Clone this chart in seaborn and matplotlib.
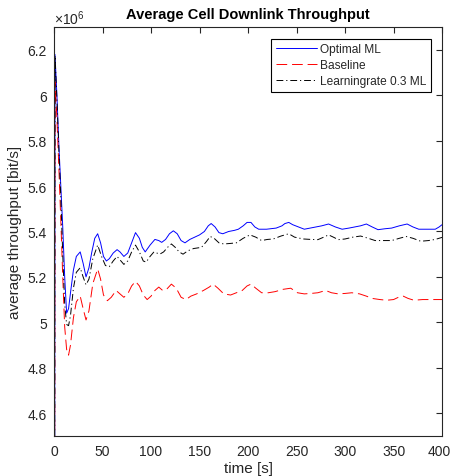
import numpy as np
import pandas as pd
import matplotlib
matplotlib.use("Agg")
import matplotlib.pyplot as plt
import matplotlib.transforms as mtransforms
import seaborn as sns

# ---- data (values in units of 10^6 bit/s) ----
opt_t = [0, 1, 3, 5, 7, 9, 11, 13, 15, 17, 20, 23, 27, 30, 33, 36, 39, 42, 45, 48, 51, 54,
         57, 61, 65, 68, 72, 76, 80, 84, 88, 91, 94, 99, 104, 108, 111, 115, 119, 123, 127,
         131, 135, 140, 145, 150, 155, 159, 162, 166, 170, 174, 180, 186, 190, 195, 199, 203,
         207, 211, 219, 229, 235, 238, 242, 246, 252, 258, 264, 270, 276, 283, 290, 297, 304,
         310, 316, 322, 328, 334, 341, 348, 356, 364, 370, 376, 385, 393, 397, 400]
opt_v = [0.0, 6.18, 6.0, 5.78, 5.6, 5.42, 5.2, 5.04, 5.06, 5.13, 5.23, 5.29, 5.31, 5.26, 5.2,
         5.24, 5.31, 5.37, 5.39, 5.35, 5.29, 5.27, 5.28, 5.305, 5.32, 5.31, 5.29, 5.305, 5.35,
         5.395, 5.37, 5.33, 5.31, 5.34, 5.365, 5.36, 5.352, 5.365, 5.39, 5.403, 5.39, 5.36,
         5.35, 5.365, 5.375, 5.385, 5.40, 5.425, 5.435, 5.42, 5.395, 5.39, 5.40, 5.405, 5.41,
         5.425, 5.44, 5.44, 5.42, 5.41, 5.41, 5.415, 5.425, 5.435, 5.44, 5.43, 5.42, 5.41,
         5.415, 5.42, 5.425, 5.433, 5.42, 5.41, 5.415, 5.42, 5.425, 5.433, 5.42, 5.408, 5.412,
         5.415, 5.425, 5.433, 5.42, 5.41, 5.41, 5.41, 5.42, 5.43]

base_t = [0, 1, 3, 5, 7, 9, 11, 13, 15, 17, 20, 23, 27, 30, 33, 36, 40, 45, 48, 51, 55, 59,
          64, 68, 72, 76, 80, 84, 88, 92, 96, 100, 104, 108, 112, 116, 121, 126, 131, 136,
          141, 147, 154, 160, 164, 169, 175, 182, 188, 194, 199, 203, 208, 214, 221, 228,
          236, 244, 251, 258, 265, 272, 280, 286, 293, 300, 307, 315, 322, 328, 336, 343,
          350, 356, 360, 365, 371, 380, 390, 400]
base_v = [0.0, 6.06, 5.9, 5.68, 5.45, 5.2, 4.98, 4.88, 4.855, 4.9, 5.02, 5.09, 5.115, 5.06,
          5.01, 5.05, 5.17, 5.235, 5.19, 5.12, 5.095, 5.11, 5.14, 5.125, 5.11, 5.125, 5.16,
          5.18, 5.16, 5.12, 5.10, 5.115, 5.14, 5.155, 5.14, 5.145, 5.168, 5.15, 5.11, 5.10,
          5.115, 5.125, 5.14, 5.155, 5.168, 5.15, 5.125, 5.12, 5.13, 5.14, 5.16, 5.168, 5.15,
          5.13, 5.13, 5.135, 5.145, 5.15, 5.13, 5.125, 5.127, 5.13, 5.14, 5.13, 5.125, 5.127,
          5.13, 5.125, 5.115, 5.105, 5.10, 5.097, 5.10, 5.112, 5.115, 5.105, 5.097, 5.10,
          5.10, 5.10]

lr_t = [0, 1, 3, 5, 7, 9, 11, 13, 15, 17, 20, 23, 27, 30, 33, 36, 40, 45, 49, 53, 57, 61,
        65, 69, 72, 76, 80, 84, 88, 92, 95, 99, 103, 106, 109, 113, 117, 121, 125, 129, 133,
        138, 144, 152, 157, 161, 165, 170, 175, 181, 188, 195, 202, 208, 214, 220, 226, 234,
        242, 248, 257, 265, 272, 278, 283, 288, 293, 300, 308, 316, 324, 331, 340, 348, 356,
        363, 370, 378, 386, 393, 400]
lr_v = [0.0, 6.175, 5.98, 5.76, 5.55, 5.3, 5.08, 4.99, 4.985, 5.03, 5.15, 5.22, 5.24, 5.2,
        5.165, 5.19, 5.28, 5.34, 5.29, 5.25, 5.245, 5.27, 5.29, 5.27, 5.255, 5.27, 5.31, 5.34,
        5.31, 5.27, 5.265, 5.29, 5.31, 5.305, 5.30, 5.31, 5.33, 5.345, 5.33, 5.31, 5.30,
        5.315, 5.325, 5.33, 5.355, 5.378, 5.37, 5.35, 5.345, 5.347, 5.35, 5.37, 5.385, 5.375,
        5.36, 5.365, 5.367, 5.38, 5.39, 5.375, 5.367, 5.365, 5.364, 5.375, 5.385, 5.375,
        5.364, 5.367, 5.375, 5.38, 5.37, 5.36, 5.36, 5.36, 5.37, 5.378, 5.37, 5.357, 5.36,
        5.365, 5.374]

labels = ["Optimal ML", "Baseline", "Learningrate 0.3 ML"]
x_ticks = [0, 50, 100, 150, 200, 250, 300, 350, 400]
y_ticks = [4.6, 4.8, 5.0, 5.2, 5.4, 5.6, 5.8, 6.0, 6.2]

sns.set_style("white")
plt.rcParams["font.family"] = ["Liberation Sans", "DejaVu Sans"]
plt.rcParams["mathtext.fontset"] = "custom"
plt.rcParams["mathtext.rm"] = "Liberation Sans"

fig = plt.figure(figsize=(4.52, 4.77), dpi=100)
ax = fig.add_axes([0.1195, 0.0845, 0.8585, 0.8562])

df_opt = pd.DataFrame({"t": opt_t, "v": opt_v})
df_base = pd.DataFrame({"t": base_t, "v": base_v})
df_lr = pd.DataFrame({"t": lr_t, "v": lr_v})

lw = 0.7
sns.lineplot(data=df_opt, x="t", y="v", ax=ax, color=(0, 0, 1), linewidth=lw,
             label=labels[0], sort=False)
sns.lineplot(data=df_base, x="t", y="v", ax=ax, color=(1, 0, 0), linewidth=lw,
             label=labels[1], sort=False)
ax.lines[-1].set_dashes([11, 5])
sns.lineplot(data=df_lr, x="t", y="v", ax=ax, color="black", linewidth=lw,
             label=labels[2], sort=False)
ax.lines[-1].set_dashes([7, 3, 1.2, 3])

ax.set_xlim(0, 400)
ax.set_ylim(4.5, 6.3)
ax.set_xticks(x_ticks)
ax.set_xticklabels([f"{v:g}" for v in x_ticks])
ax.set_yticks(y_ticks)
ax.set_yticklabels([f"{v:g}" for v in y_ticks])

gray = "#262626"
for s in ax.spines.values():
    s.set_visible(True)
    s.set_color(gray)
    s.set_linewidth(0.8)
ax.tick_params(direction="in", length=4, width=0.8, colors=gray, labelsize=10,
               top=True, right=True, labelcolor=gray)
ax.tick_params(axis="x", pad=6)
ax.tick_params(axis="y", pad=5)

# nudge the last x tick label slightly so it stays inside the figure
last = ax.get_xticklabels()[-1]
last.set_transform(last.get_transform() +
                   mtransforms.ScaledTranslation(-3 / 100, 0, fig.dpi_scale_trans))

ax.set_xlabel("time [s]", fontsize=11, color=gray, labelpad=2)
ax.set_ylabel("average throughput [bit/s]", fontsize=11, color=gray, labelpad=4)
ax.set_title("Average Cell Downlink Throughput", fontsize=10.5, fontweight="bold",
             color="black", pad=7)
ax.text(0.0, 1.008, r"$\times10^{6}$", transform=ax.transAxes, fontsize=10,
        color=gray, ha="left", va="baseline")

leg = ax.legend(loc="upper right", fontsize=8.6, frameon=True, fancybox=False,
                edgecolor="black", handlelength=3.4, borderaxespad=0.95,
                borderpad=0.4, labelspacing=0.33, handletextpad=0.25)
leg.get_frame().set_linewidth(0.8)
leg.get_frame().set_alpha(1)

fig.savefig("out.png", dpi=100)
